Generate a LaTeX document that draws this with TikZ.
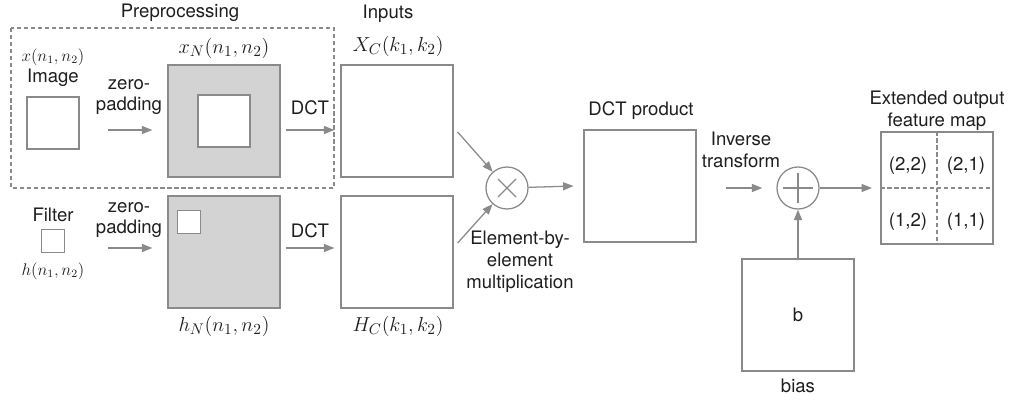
\documentclass[tikz,border=0pt]{standalone}
\usepackage{fontspec}
\setmainfont{TeX Gyre Heros}
\usetikzlibrary{arrows.meta,positioning}

\definecolor{linegray}{HTML}{8A8A8A}
\definecolor{padgray}{HTML}{D3D3D3}
\definecolor{txt}{HTML}{1E1E1E}

\tikzset{
  box/.style={draw=linegray, line width=0.9pt, minimum size=2.8cm, inner sep=0pt},
  padbox/.style={box, fill=padgray},
  smallbox/.style={draw=linegray, line width=0.9pt, fill=white, inner sep=0pt},
  op/.style={circle, draw=linegray, line width=0.9pt, minimum size=1.05cm, inner sep=0pt},
  flow/.style={draw=linegray, line width=0.9pt, -{Triangle[length=2.6mm,width=2mm]}},
  lbl/.style={font=\fontsize{13.2}{15.5}\selectfont, text=txt, align=center, inner sep=0pt},
  mlbl/.style={font=\fontsize{15}{17}\selectfont, text=txt, inner sep=0pt},
  slbl/.style={font=\fontsize{12}{14}\selectfont, text=txt, inner sep=0pt},
}

\begin{document}
\begin{tikzpicture}[x=0.025cm, y=-0.025cm]
  \useasboundingbox (0,0) rectangle (1013,401);

  % --- preprocessing frame ---
  \draw[linegray, line width=0.8pt, dash pattern=on 3pt off 2pt] (11,28) rectangle (334,188);
  \node[lbl] (pre) at (180,13) {Preprocessing};

  % --- image ---
  \node[slbl] (xlab) at (53,57) {$x(n_1,n_2)$};
  \node[lbl] (imglab) at (53,78) {Image};
  \node[smallbox, minimum size=1.3cm] (img) at (53,123) {};
  \node[lbl] (zp1) at (129,97) {zero-\\padding};

  % --- zero-padded image ---
  \node[padbox] (xn) at (224,121) {};
  \node[smallbox, minimum size=1.3cm] (xnin) at (xn) {};
  \node[mlbl] (xnlab) at (224,48) {$x_N(n_1,n_2)$};
  \node[lbl] (dct1) at (310,108) {DCT};

  % --- filter ---
  \node[lbl] (filtlab) at (53,215) {Filter};
  \node[smallbox, minimum size=0.575cm] (filt) at (53,241) {};
  \node[slbl] (hlab) at (53,271) {$h(n_1,n_2)$};
  \node[lbl] (zp2) at (129,220) {zero-\\padding};

  % --- zero-padded filter ---
  \node[padbox] (hn) at (224,252) {};
  \node[smallbox, minimum size=0.575cm] (hnin) at (189,222) {};
  \node[mlbl] (hnlab) at (224,326) {$h_N(n_1,n_2)$};
  \node[lbl] (dct2) at (310,231) {DCT};

  % --- inputs ---
  \node[lbl] (inlab) at (388,14) {Inputs};
  \node[box] (xc) at (397,121) {};
  \node[mlbl] (xclab) at (398,46) {$X_C(k_1,k_2)$};
  \node[box] (hc) at (397,252) {};
  \node[mlbl] (hclab) at (398,326) {$H_C(k_1,k_2)$};

  % --- multiplication ---
  \node[op] (mul) at (507,188) {};
  \draw[linegray, line width=0.8pt] ([shift={(-9,-9)}]mul.center) -- ([shift={(9,9)}]mul.center)
    ([shift={(-9,9)}]mul.center) -- ([shift={(9,-9)}]mul.center);
  \node[lbl] (mullab) at (520,262) {Element-by-\\element\\multiplication};

  % --- DCT product ---
  \node[lbl] (prodlab) at (641,111) {DCT product};
  \node[box] (prod) at (640,186) {};
  \node[lbl] (invlab) at (741,150) {Inverse\\transform};

  % --- addition ---
  \node[op] (add) at (798,188) {};
  \draw[linegray, line width=0.8pt] ([yshift=-11]add.center) -- ([yshift=11]add.center)
    ([xshift=-11]add.center) -- ([xshift=11]add.center);

  % --- bias ---
  \node[box] (bias) at (798,315) {};
  \node[lbl] at (bias) {b};
  \node[lbl] (biaslab) at (798,386) {bias};

  % --- output ---
  \node[box] (out) at (937,188) {};
  \draw[linegray, line width=0.8pt, dash pattern=on 3pt off 2pt] (out.north) -- (out.south)
    (out.west) -- (out.east);
  \node[lbl] (o22) at (908,166) {(2,2)};
  \node[lbl] (o21) at (966,166) {(2,1)};
  \node[lbl] (o12) at (908,222) {(1,2)};
  \node[lbl] (o11) at (966,222) {(1,1)};
  \node[lbl] (outlab) at (937,111) {Extended output\\feature map};

  % --- arrows ---
  \draw[flow] ([shift={(28,7)}]img.east) -- ([shift={(-15,9)}]xn.west);
  \draw[flow] ([shift={(5,9)}]xn.east) -- ([shift={(-6,9)}]xc.west);
  \draw[flow] ([shift={(43,7)}]filt.east) -- ([shift={(-15,-4)}]hn.west);
  \draw[flow] ([shift={(5,-4)}]hn.east) -- ([shift={(-6,-4)}]hc.west);
  \draw[flow] ([shift={(4,11)}]xc.east) -- (mul);
  \draw[flow] ([shift={(4,-9)}]hc.east) -- (mul);
  \draw[flow] (mul) -- ([xshift=-7]prod.west);
  \draw[flow] ([xshift=21]prod.east |- add) -- ([xshift=-10]add.west);
  \draw[flow] (add) -- ([xshift=-6]out.west);
  \draw[flow] (bias) -- (add);

\end{tikzpicture}
\end{document}
